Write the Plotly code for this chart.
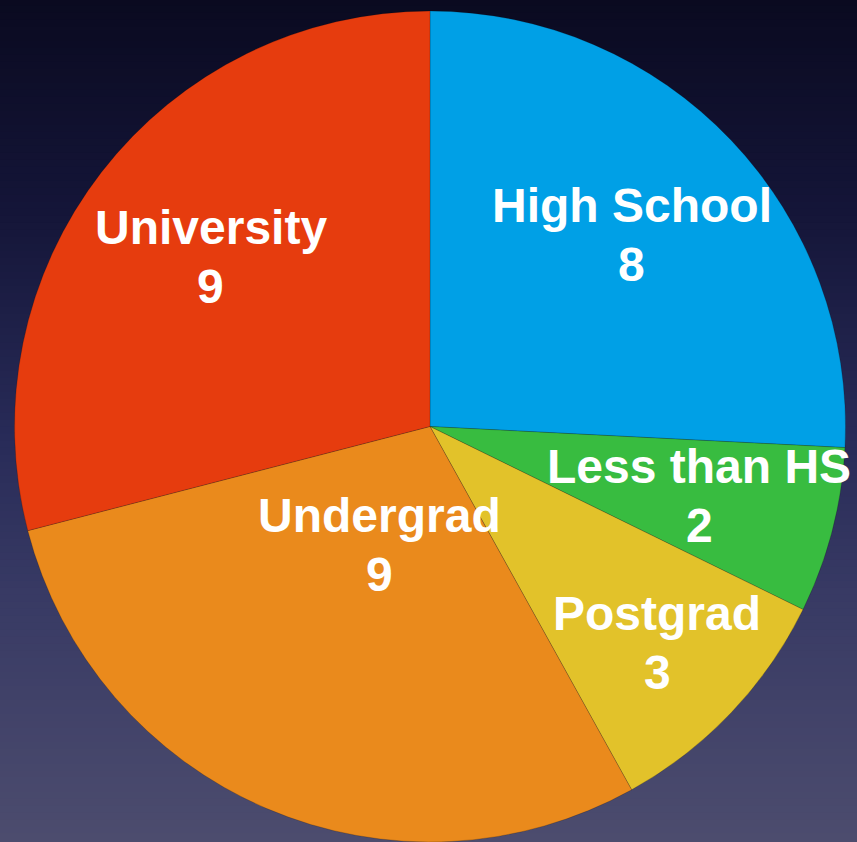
import math
import plotly.graph_objects as go

# Education level counts
categories = ["High School", "Less than HS", "Postgrad", "Undergrad", "University"]
counts = [8, 2, 3, 9, 9]

slice_colors = ["#00A0E6", "#38BC40", "#E2C22A", "#EA8A1C", "#E63C0E"]
# radial placement of each label block, as a fraction of the pie radius
label_radius = [0.67, 0.67, 0.755, 0.31, 0.667]

W, H = 857, 842
CX, CY, R = 430.0, 426.5, 415.5  # pie centre (px from left/top) and radius

fig = go.Figure()

fig.add_trace(go.Pie(
    labels=categories,
    values=counts,
    sort=False,
    direction="clockwise",
    rotation=0,
    textinfo="none",
    hoverinfo="label+value",
    marker=dict(colors=slice_colors, line=dict(color="rgba(0,0,0,0.18)", width=1)),
    domain=dict(x=[(CX - R) / W, (CX + R) / W], y=[(H - CY - R) / H, (H - CY + R) / H]),
    showlegend=False,
))

# vertical background gradient: dark navy at the top, slate blue at the bottom
stops = [(0.0, (10, 10, 32)), (0.25, (20, 21, 56)), (0.52, (40, 43, 88)),
         (0.71, (56, 58, 100)), (1.0, (76, 76, 110))]


def bg_color(t):
    for (t0, c0), (t1, c1) in zip(stops[:-1], stops[1:]):
        if t0 <= t <= t1:
            f = (t - t0) / (t1 - t0)
            return "rgb(%d,%d,%d)" % tuple(round(a + (b - a) * f) for a, b in zip(c0, c1))
    return "rgb(%d,%d,%d)" % stops[-1][1]


bands = 120
shapes = []
for i in range(bands):
    t = (i + 0.5) / bands
    shapes.append(dict(
        type="rect", xref="paper", yref="paper", layer="below",
        x0=0, x1=1, y0=1 - (i + 1) / bands, y1=1 - i / bands + 0.002,
        fillcolor=bg_color(t), line=dict(width=0),
    ))

# labels placed along each slice's bisector
total = sum(counts)
annotations = []
acc = 0.0
font = dict(family="Liberation Sans, Arial, Helvetica, sans-serif", size=48,
            color="white", weight="bold")
for name, val, rf in zip(categories, counts, label_radius):
    mid = 90.0 - 360.0 * (acc + val / 2.0) / total
    acc += val
    px = CX + rf * R * math.cos(math.radians(mid))
    py = CY - rf * R * math.sin(math.radians(mid))
    for text, dy in ((name, -29.5), (str(val), 29.5)):
        annotations.append(dict(
            text=text, x=px / W, y=(H - (py + dy)) / H, xref="paper", yref="paper",
            xanchor="center", yanchor="middle", showarrow=False, font=font,
        ))

fig.update_layout(
    width=W, height=H,
    margin=dict(l=0, r=0, t=0, b=0),
    paper_bgcolor="rgb(10,10,32)",
    plot_bgcolor="rgba(0,0,0,0)",
    shapes=shapes,
    annotations=annotations,
)

fig.write_html("out.html")
